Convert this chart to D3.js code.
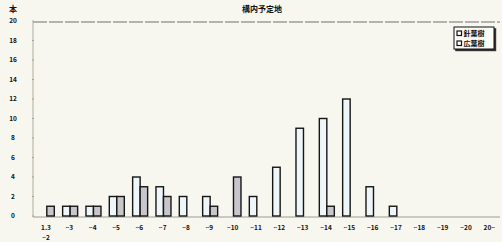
<!DOCTYPE html>
<html><head><meta charset="utf-8">
<script src="https://cdn.jsdelivr.net/npm/d3@7"></script>
<style>
html,body{margin:0;padding:0;background:#f7f7f0;}
svg{display:block;}
text{font-family:"Noto Sans CJK JP","DejaVu Sans",sans-serif;}
</style></head><body>
<svg id="c" width="502" height="242"></svg>
<script>
const categories = ["1.3~2","~3","~4","~5","~6","~7","~8","~9","~10","~11","~12","~13","~14","~15","~16","~17","~18","~19","~20","20~"];
const seriesNames = ["針葉樹","広葉樹"];
const conifer =   [0,1,1,2,4,3,2,2,0,2,5,9,10,12,3,1,0,0,0,0];
const broadleaf = [1,1,1,2,3,2,0,1,4,0,0,0,1,0,0,0,0,0,0,0];
const yTicks = [0,2,4,6,8,10,12,14,16,18,20];
const chartTitle = "構内予定地";
const yUnit = "本";
const colors = ["#eef6fa","#c9c6cb"];

const svg = d3.select("#c");
const pLeft = 33, pTop = 21, pBottom = 216;

const x = d3.scaleBand().domain(categories).range([34.3, 501]);
const xs = d3.scaleBand().domain(seriesNames).range([5, 20]);
const y = d3.scaleLinear().domain([0, 20]).range([pBottom, pTop]);

// frame lines
svg.append("line").attr("x1", pLeft).attr("x2", 500).attr("y1", pTop+1).attr("y2", pTop+1)
  .attr("stroke", "#6e6e6e").attr("stroke-width", 1).attr("stroke-dasharray", "14,2");
svg.append("line").attr("x1", pLeft).attr("x2", pLeft).attr("y1", pTop+1).attr("y2", pBottom+1)
  .attr("stroke", "#b0ad9a").attr("stroke-width", 1);
svg.append("line").attr("x1", pLeft).attr("x2", 500).attr("y1", pBottom+1).attr("y2", pBottom+1)
  .attr("stroke", "#9a9a9a").attr("stroke-width", 1);

// y axis labels
yTicks.forEach(t => {
  svg.append("text").attr("x", 13).attr("y", y(t)).attr("dy", "0.35em")
    .attr("text-anchor", "middle").attr("font-size", 6.5).attr("font-weight", "bold")
    .attr("fill", "#111").text(t);
  svg.append("line").attr("x1", pLeft-1).attr("x2", pLeft+1).attr("y1", y(t)).attr("y2", y(t))
    .attr("stroke", "#999").attr("stroke-width", 0.8);
});
svg.append("text").attr("x", 13).attr("y", 12).attr("text-anchor", "middle")
  .attr("font-size", 8).attr("font-weight", "bold").attr("fill", "#111").text(yUnit);

// title
svg.append("text").attr("x", 262).attr("y", 12).attr("text-anchor", "middle")
  .attr("font-size", 8).attr("font-weight", "bold").attr("fill", "#111").text(chartTitle);

// bars
const data = [conifer, broadleaf];
data.forEach((vals, si) => {
  svg.append("g").selectAll("rect").data(vals.map((v,i)=>({v, c: categories[i]})).filter(d=>d.v>0))
    .join("rect")
    .attr("x", d => x(d.c) + xs(seriesNames[si]))
    .attr("y", d => y(d.v))
    .attr("width", xs.bandwidth())
    .attr("height", d => y(0) - y(d.v))
    .attr("fill", colors[si])
    .attr("stroke", "#151515").attr("stroke-width", 1.4);
});

// x labels
categories.forEach(c => {
  const cx = x(c) + x.bandwidth()/2;
  const parts = c === "1.3~2" ? ["1.3","~2"] : [c];
  parts.forEach((p, k) => {
    svg.append("text").attr("x", cx).attr("y", 230 + k*10).attr("text-anchor", "middle")
      .attr("font-size", 6.5).attr("font-weight", "bold").attr("fill", "#111").text(p);
  });
});

// legend
const lg = svg.append("g").attr("transform", "translate(454,27)");
lg.append("rect").attr("x", 1.2).attr("y", 1.2).attr("width", 41).attr("height", 23).attr("fill", "#333");
lg.append("rect").attr("x", 0).attr("y", 0).attr("width", 40).attr("height", 22)
  .attr("fill", "#fbfbf6").attr("stroke", "#111").attr("stroke-width", 1);
seriesNames.forEach((n, i) => {
  lg.append("rect").attr("x", 3).attr("y", 4 + i*10).attr("width", 4.5).attr("height", 4.5)
    .attr("fill", "#fff").attr("stroke", "#111").attr("stroke-width", 1.2);
  lg.append("text").attr("x", 9.5).attr("y", 6.3 + i*10).attr("dy", "0.35em")
    .attr("font-size", 7).attr("font-weight", "bold").attr("fill", "#111").text(n);
});
</script>
</body></html>
